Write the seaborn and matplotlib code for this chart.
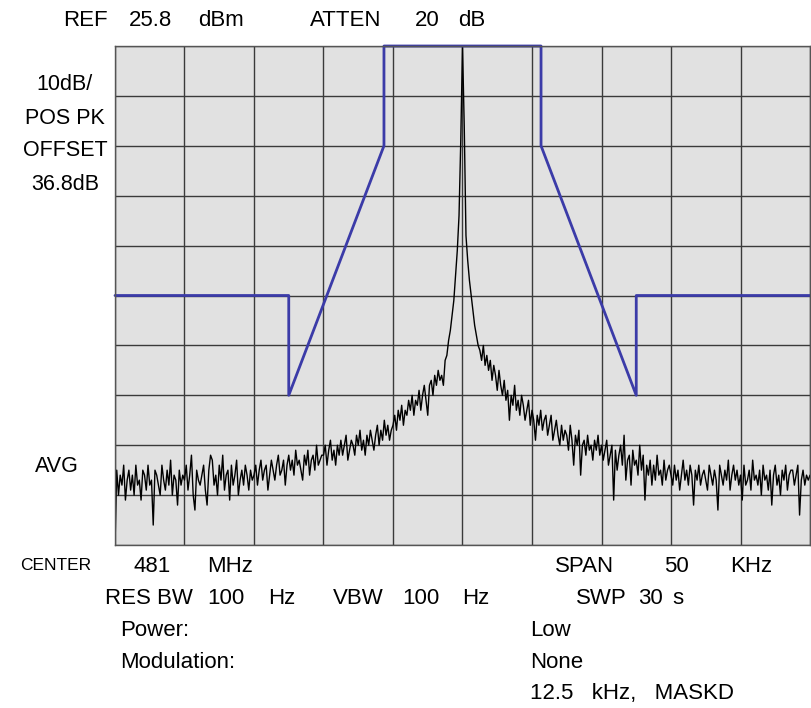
import numpy as np
import matplotlib
matplotlib.use('Agg')
import matplotlib.pyplot as plt
import seaborn as sns
from matplotlib import font_manager

# Trace: level in dB below the reference, 401 sweep points
# over the 50 kHz span (one grid division = 5 kHz = 40 points)
div1 = [-100, -85, -90, -86, -88, -84, -91, -87, -85, -89,
        -86, -90, -84, -88, -87, -91, -85, -86, -89, -84,
        -88, -87, -96, -85, -86, -88, -90, -84, -87, -89,
        -85, -88, -83, -90, -86, -87, -92, -85, -88, -86]
div2 = [-87, -84, -89, -86, -82, -90, -93, -85, -87, -88,
        -86, -84, -89, -92, -85, -82, -83, -88, -86, -90,
        -84, -87, -82, -89, -86, -85, -91, -84, -88, -86,
        -83, -90, -87, -85, -88, -84, -86, -89, -85, -87]
div3 = [-86, -84, -88, -85, -83, -87, -85, -84, -89, -86,
        -83, -85, -87, -84, -82, -86, -85, -83, -88, -84,
        -82, -85, -83, -86, -81, -84, -83, -85, -87, -82,
        -84, -81, -86, -83, -82, -85, -80, -84, -83, -82]
div4 = [-82, -80, -84, -81, -79, -83, -81, -84, -80, -82,
        -79, -82, -80, -78, -83, -81, -79, -80, -82, -78,
        -80, -77, -81, -79, -82, -78, -80, -77, -79, -81,
        -78, -76, -80, -77, -79, -75, -78, -76, -79, -77]
div5 = [-76, -74, -77, -73, -75, -72, -76, -73, -74, -71,
        -73, -70, -74, -71, -72, -69, -73, -70, -68, -71,
        -74, -68, -67, -70, -66, -68, -65, -67, -66, -68,
        -63, -62, -59, -57, -54, -51, -46, -41, -34, -19]
carrier = [0]
div6 = [-16, -38, -43, -47, -50, -53, -56, -58, -60,
        -61, -63, -60, -64, -62, -65, -63, -67, -64, -66,
        -69, -65, -68, -70, -67, -71, -69, -75, -70, -72,
        -68, -73, -71, -74, -70, -72, -75, -73, -71, -76]
div7 = [-73, -75, -79, -74, -76, -73, -77, -75, -74, -78,
        -76, -74, -79, -77, -75, -78, -80, -76, -79, -77,
        -78, -81, -76, -79, -84, -78, -80, -77, -86, -80,
        -79, -82, -78, -81, -80, -83, -79, -81, -78, -82]
div8 = [-80, -83, -81, -79, -84, -82, -80, -91, -81, -85,
        -82, -80, -84, -78, -87, -83, -82, -88, -81, -84,
        -83, -86, -80, -85, -82, -91, -84, -86, -83, -88,
        -84, -87, -82, -86, -85, -88, -83, -87, -85, -84]
div9 = [-86, -88, -84, -87, -85, -89, -86, -83, -87, -85,
        -88, -84, -86, -92, -85, -87, -84, -88, -86, -85,
        -87, -89, -84, -86, -88, -85, -87, -93, -84, -86,
        -88, -85, -87, -83, -89, -86, -84, -87, -85, -88]
div10 = [-86, -91, -84, -88, -87, -85, -89, -83, -87, -86,
         -88, -85, -90, -84, -87, -86, -89, -85, -92, -86,
         -84, -88, -86, -90, -85, -87, -84, -89, -86, -85,
         -85, -88, -86, -84, -94, -87, -85, -88, -86, -87,
         -86]

level_db = div1 + div2 + div3 + div4 + div5 + carrier + div6 + div7 + div8 + div9 + div10
freq_khz = np.linspace(-25, 25, len(level_db))

# emission mask (12.5 kHz channel)
mask_khz = [-25, -12.5, -12.5, -5.65, -5.65, 5.65, 5.65, 12.5, 12.5, 25]
mask_db = [-50, -50, -70, -20, 0, 0, -20, -70, -50, -50]

sns.set_theme(style="white")
names = {f.name for f in font_manager.fontManager.ttflist}
narrow = 'Liberation Sans Narrow' if 'Liberation Sans Narrow' in names else 'Liberation Sans'
plt.rcParams['font.family'] = ['Liberation Sans', 'DejaVu Sans']

fig = plt.figure(figsize=(8.11, 7.08), dpi=100)
ax = fig.add_axes([115 / 811, 1 - 545 / 708, 695 / 811, 499 / 708])
ax.set_facecolor('#e1e1e1')

sns.lineplot(x=freq_khz, y=level_db, ax=ax, color='black', lw=1,
             sort=False, estimator=None)
sns.lineplot(x=mask_khz, y=mask_db, ax=ax, color='#3b3ba8', lw=2,
             sort=False, estimator=None, clip_on=False)

ax.set_xlim(-25, 25)
ax.set_ylim(-100, 0)
ax.set_xticks(np.arange(-25, 26, 5))
ax.set_yticks(np.arange(-100, 1, 10))
ax.grid(True, color='#3a3a3a', lw=1)
ax.set_axisbelow(True)
ax.tick_params(length=0, labelbottom=False, labelleft=False)
ax.set_xlabel('')
ax.set_ylabel('')
for s in ax.spines.values():
    s.set_color('#555555')
    s.set_linewidth(1)


def txt(x, y, s, size=16, family=None, ha='left'):
    fig.text(x / 811, 1 - y / 708, s, fontsize=size, ha=ha, va='center',
             family=family or narrow, color='black')


# header
txt(63, 20, 'REF')
txt(129, 20, '25.8')
txt(198, 20, 'dBm')
txt(310, 20, 'ATTEN')
txt(415, 20, '20')
txt(458, 20, 'dB')

# left side labels
for y, s in [(84, '10dB/'), (118, 'POS PK'), (151, 'OFFSET'), (184, '36.8dB')]:
    txt(65, y, s, size=15.5, family='Liberation Sans', ha='center')
txt(57, 467, 'AVG', size=15.5, family='Liberation Sans', ha='center')

# footer
txt(20, 566, 'CENTER', size=12.5)
txt(133, 566, '481')
txt(207, 566, 'MHz')
txt(555, 566, 'SPAN')
txt(664, 566, '50')
txt(730, 566, 'KHz')

txt(105, 598, 'RES BW')
txt(207, 598, '100')
txt(268, 598, 'Hz')
txt(333, 598, 'VBW')
txt(402, 598, '100')
txt(462, 598, 'Hz')
txt(576, 598, 'SWP')
txt(638, 598, '30')
txt(672, 598, 's')

txt(120, 631, 'Power:')
txt(530, 631, 'Low')
txt(120, 662, 'Modulation:')
txt(530, 662, 'None')
txt(530, 694, '12.5   kHz,   MASKD')

fig.savefig('out.png', dpi=100)
